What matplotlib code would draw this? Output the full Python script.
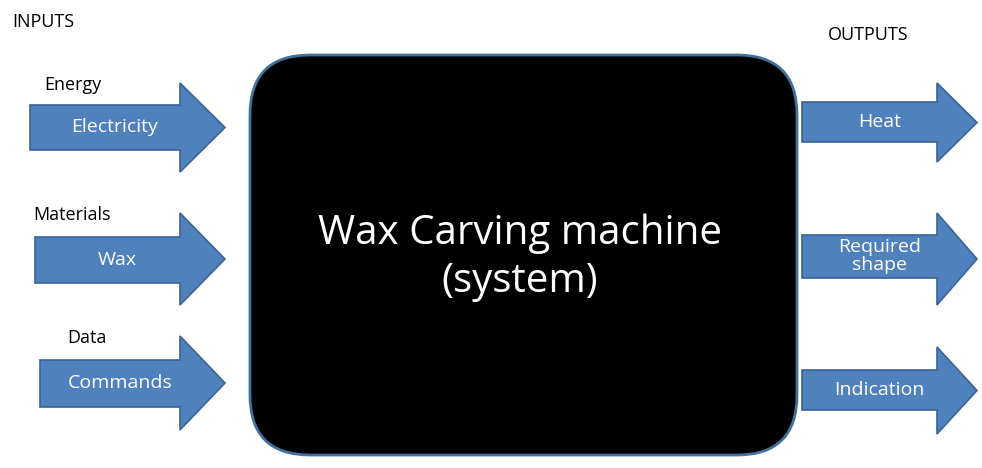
import matplotlib.pyplot as plt
from matplotlib.patches import Polygon, FancyBboxPatch

plt.rcParams['font.family'] = ['Open Sans', 'DejaVu Sans']

input_labels = ['Electricity', 'Wax', 'Commands']
input_groups = ['Energy', 'Materials', 'Data']
output_labels = ['Heat', 'Required\nshape', 'Indication']

# arrow geometry: (x0, body_top, body_bottom, head_x, head_top, head_bottom, tip_x)
in_geom = [(30, 105, 150, 180, 83, 172, 225),
           (35, 237, 283, 180, 213, 305, 225),
           (40, 360, 407, 180, 336, 430, 225)]
out_geom = [(802, 102, 142, 937, 83, 162, 977),
            (802, 235, 278, 937, 213, 305, 977),
            (802, 370, 410, 937, 347, 434, 977)]

fig = plt.figure(figsize=(9.82, 4.68), dpi=100)
ax = fig.add_axes([0, 0, 1, 1])
ax.set_xlim(0, 982)
ax.set_ylim(468, 0)
ax.axis('off')

def arrow(g, label):
    x0, bt, bb, hx, ht, hb, tx = g
    pts = [(x0, bt), (hx, bt), (hx, ht), (tx, (ht + hb) / 2), (hx, hb), (hx, bb), (x0, bb)]
    ax.add_patch(Polygon(pts, closed=True, facecolor='#4F81BD', edgecolor='#3A6496', lw=1.2))
    ax.text((x0 + hx) / 2 + 10, (bt + bb) / 2, label, color='white', fontsize=14,
            ha='center', va='center', linespacing=1.0)

for g, lab, grp in zip(in_geom, input_labels, input_groups):
    arrow(g, lab)
    ax.text(g[0] + 55 - len(grp) * 2, g[4] + 2, grp, fontsize=13, ha='center', va='center')
for g, lab in zip(out_geom, output_labels):
    arrow(g, lab)

ax.add_patch(FancyBboxPatch((310, 115), 427, 280, boxstyle='round,pad=60,rounding_size=60',
                            facecolor='black', edgecolor='#41719C', lw=2))
ax.text(520, 258, 'Wax Carving machine\n(system)', color='white', fontsize=29,
        ha='center', va='center', linespacing=1.25)

ax.text(12, 22, 'INPUTS', fontsize=13, va='center')
ax.text(828, 35, 'OUTPUTS', fontsize=13, va='center')

fig.savefig('out.png', dpi=100)
